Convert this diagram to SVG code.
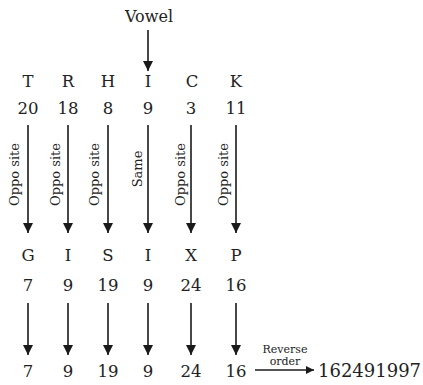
<svg xmlns="http://www.w3.org/2000/svg" width="423" height="385" viewBox="0 0 423 385">
<style>
text{font-family:"DejaVu Serif","Liberation Serif",serif;fill:#222;text-anchor:middle}
.t{font-size:16.5px}
.v{font-size:16px}
.l{font-size:13px}
.s{font-size:11px}
.big{font-size:18px;text-anchor:start}
.a{stroke:#1a1a1a;stroke-width:1.6;fill:none;marker-end:url(#ah)}
</style>
<defs>
<marker id="ah" viewBox="0 0 10 10" refX="10" refY="5" markerWidth="10" markerHeight="10" markerUnits="userSpaceOnUse" orient="auto">
<path d="M0,0 L10,5 L0,10 Z" fill="#1a1a1a"/>
</marker>
<marker id="ah2" viewBox="0 0 10 10" refX="10" refY="5" markerWidth="8" markerHeight="8" markerUnits="userSpaceOnUse" orient="auto">
<path d="M0,0 L10,5 L0,10 Z" fill="#1a1a1a"/>
</marker>
</defs>
<g id="connectors">
<line class="a" x1="148" y1="30" x2="148" y2="71"/>
<line class="a" x1="28" y1="125" x2="28" y2="233"/>
<line class="a" x1="68" y1="125" x2="68" y2="233"/>
<line class="a" x1="108" y1="125" x2="108" y2="233"/>
<line class="a" x1="148" y1="125" x2="148" y2="233"/>
<line class="a" x1="191" y1="125" x2="191" y2="233"/>
<line class="a" x1="236" y1="125" x2="236" y2="233"/>
<line class="a" x1="28" y1="303" x2="28" y2="355"/>
<line class="a" x1="68" y1="303" x2="68" y2="355"/>
<line class="a" x1="108" y1="303" x2="108" y2="355"/>
<line class="a" x1="148" y1="303" x2="148" y2="355"/>
<line class="a" x1="191" y1="303" x2="191" y2="355"/>
<line class="a" x1="236" y1="303" x2="236" y2="355"/>
<line x1="255" y1="370" x2="314" y2="370" stroke="#1a1a1a" stroke-width="1.6" marker-end="url(#ah2)"/>
<text class="l" transform="translate(19,174.5) rotate(-90)">Oppo site</text>
<text class="l" transform="translate(59.5,174.5) rotate(-90)">Oppo site</text>
<text class="l" transform="translate(99,174.5) rotate(-90)">Oppo site</text>
<text class="l" transform="translate(141.5,169) rotate(-90)">Same</text>
<text class="l" transform="translate(185,174.5) rotate(-90)">Oppo site</text>
<text class="l" transform="translate(228,174.5) rotate(-90)">Oppo site</text>
<text class="s" x="285" y="353">Reverse</text>
<text class="s" x="285" y="365">order</text>
</g>
<g id="vowel"><text class="v" x="149" y="21.5">Vowel</text></g>
<g id="row1">
<text class="t" x="28" y="87">T</text>
<text class="t" x="68" y="87">R</text>
<text class="t" x="108" y="87">H</text>
<text class="t" x="148" y="87">I</text>
<text class="t" x="192" y="87">C</text>
<text class="t" x="236" y="87">K</text>
</g>
<g id="row2">
<text class="t" x="28" y="114">20</text>
<text class="t" x="68" y="114">18</text>
<text class="t" x="108" y="114">8</text>
<text class="t" x="148" y="114">9</text>
<text class="t" x="191" y="114">3</text>
<text class="t" x="236" y="114">11</text>
</g>
<g id="row3">
<text class="t" x="28" y="261">G</text>
<text class="t" x="68" y="261">I</text>
<text class="t" x="108" y="261">S</text>
<text class="t" x="148" y="261">I</text>
<text class="t" x="191" y="261">X</text>
<text class="t" x="236" y="261">P</text>
</g>
<g id="row4">
<text class="t" x="28" y="291">7</text>
<text class="t" x="68" y="291">9</text>
<text class="t" x="108" y="291">19</text>
<text class="t" x="148" y="291">9</text>
<text class="t" x="191" y="291">24</text>
<text class="t" x="236" y="291">16</text>
</g>
<g id="row5">
<text class="t" x="28" y="377">7</text>
<text class="t" x="68" y="377">9</text>
<text class="t" x="108" y="377">19</text>
<text class="t" x="148" y="377">9</text>
<text class="t" x="191" y="377">24</text>
<text class="t" x="236" y="377">16</text>
</g>
<g id="result"><text class="big" x="318" y="377">162491997</text></g>
</svg>
